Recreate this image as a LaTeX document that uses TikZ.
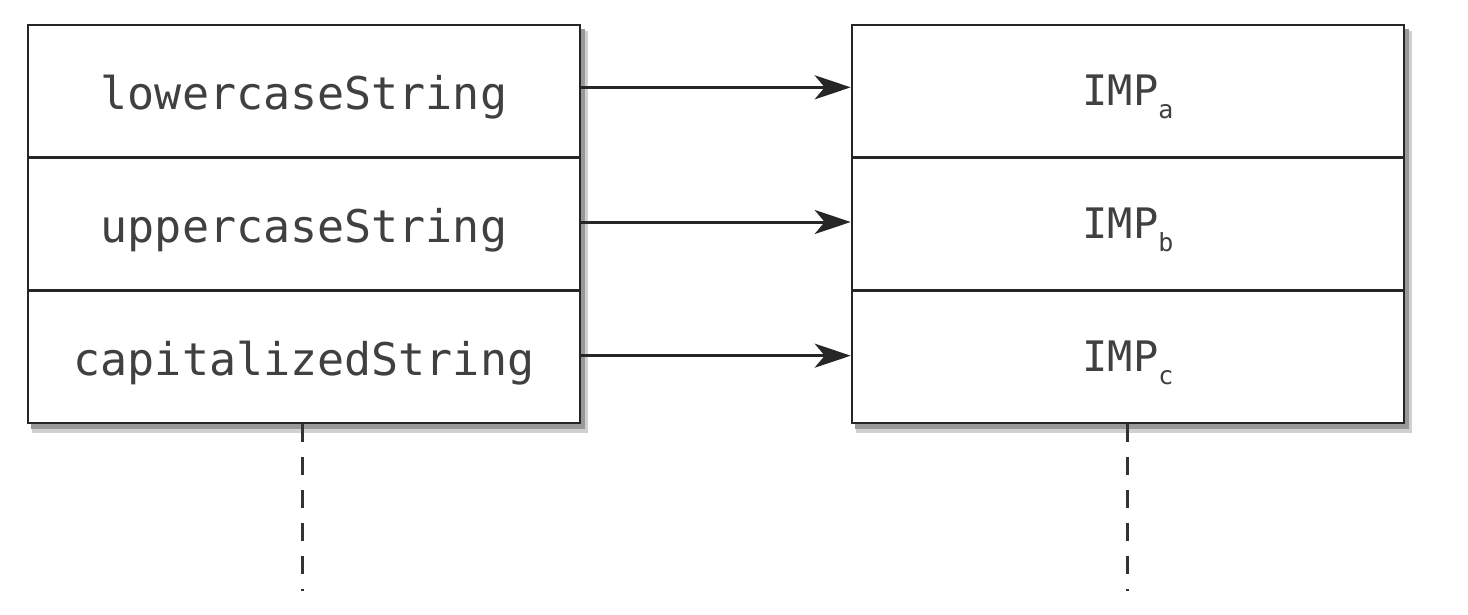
\documentclass[tikz,border=0pt]{standalone}
\usepackage{fontspec}
\setmonofont{DejaVu Sans Mono}
\usetikzlibrary{arrows.meta,calc}
\begin{document}
\begin{tikzpicture}[x=1pt,y=-1pt,
  cell/.style={draw=black!85, line width=2.6pt, fill=white,
    minimum width=552pt, minimum height=132.67pt, inner sep=0pt,
    text=black!75},
  selcell/.style={cell, font=\fontsize{45}{45}\selectfont\ttfamily},
  impcell/.style={cell, font=\fontsize{42}{42}\selectfont\ttfamily},
  shade1/.style={fill=black!18, draw=none},
  shade2/.style={fill=black!40, draw=none},
  conn/.style={draw=black!85, line width=3pt,
    -{Stealth[length=36pt, width=24pt, inset=10pt]}},
  dashline/.style={draw=black!80, line width=3pt, dash pattern=on 18pt off 15pt}]
\useasboundingbox (0,0) rectangle (1468,614);
\fill[white] (0,0) rectangle (1468,614);

% lower the cell text a little without changing the cell's size
\newcommand{\celltext}[1]{\raisebox{-6pt}[\height][\depth]{#1}}
\newcommand{\impsub}[1]{\raisebox{-6pt}[\height][\depth]{IMP\raisebox{-13pt}{\fontsize{25}{25}\selectfont #1}}}

% soft drop shadows under both tables
\foreach \x in {28, 852} {
  \fill[shade1] (\x+4,31) rectangle (\x+560,433);
  \fill[shade2] (\x+3,29) rectangle (\x+557,429);
}

% selector column
\node[selcell] (l1) at (304, 91.33) {\celltext{lowercaseString}};
\node[selcell] (l2) at (304, 224)   {\celltext{uppercaseString}};
\node[selcell] (l3) at (304, 356.67) {\celltext{capitalizedString}};

% implementation column
\node[impcell] (r1) at (1128, 91.33) {\impsub{a}};
\node[impcell] (r2) at (1128, 224)   {\impsub{b}};
\node[impcell] (r3) at (1128, 356.67) {\impsub{c}};

% selector -> implementation
\draw[conn] ($(l1.east)+(0,-4)$) -- ($(r1.west)+(0,-4)$);
\draw[conn] ($(l2.east)+(0,-2)$) -- ($(r2.west)+(0,-2)$);
\draw[conn] ($(l3.east)+(0,-1)$) -- ($(r3.west)+(0,-1)$);

% the tables continue downwards
\coordinate (lend) at (302,591);
\coordinate (rend) at (1127,591);
\draw[dashline] (l3.south -| lend) -- (lend);
\draw[dashline] (r3.south -| rend) -- (rend);
\end{tikzpicture}
\end{document}
